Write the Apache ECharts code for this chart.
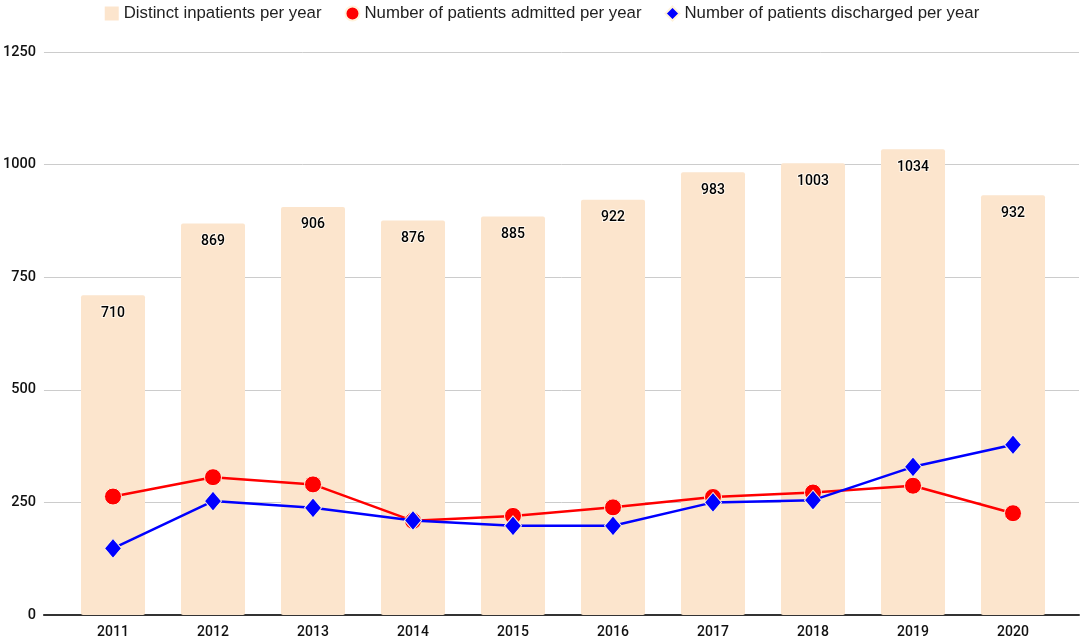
<!DOCTYPE html>
<html>
<head>
<meta charset="utf-8">
<script src="https://cdn.jsdelivr.net/npm/echarts@6/dist/echarts.min.js"></script>
<style>
  html, body { margin: 0; padding: 0; background: #fff; }
  #chart { width: 1084px; height: 642px; }
</style>
</head>
<body>
<div id="chart"></div>
<script>
const years = ['2011', '2012', '2013', '2014', '2015', '2016', '2017', '2018', '2019', '2020'];
const distinct = [710, 869, 906, 876, 885, 922, 983, 1003, 1034, 932];
const admitted = [263, 306, 290, 209, 220, 239, 262, 272, 287, 226];
const discharged = [148, 253, 238, 210, 198, 198, 250, 255, 329, 378];
const yTicks = { min: 0, max: 1250, interval: 250 };

const chart = echarts.init(document.getElementById('chart'));

const font = 'Roboto, "Liberation Sans", Arial, sans-serif';
const legendFont = '"Liberation Sans", Arial, sans-serif';

const option = {
    animation: false,
    textStyle: { fontFamily: font },
    legend: {
        top: 0,
        left: 'center',
        itemWidth: 14,
        itemHeight: 14,
        itemGap: 23,
        textStyle: { fontSize: 16.8, color: '#222', fontFamily: legendFont },
        data: [
            { name: 'Distinct inpatients per year', icon: 'rect' },
            { name: 'Number of patients admitted per year', icon: 'circle' },
            { name: 'Number of patients discharged per year', icon: 'diamond' }
        ]
    },
    grid: [
        // background grid: gridlines + axis line, wider than the bars
        { left: 43, right: 5, top: 52, bottom: 27 },
        // data grid
        { left: 63, right: 21, top: 52, bottom: 27 }
    ],
    xAxis: [
        {
            gridIndex: 0,
            type: 'value',
            min: 0,
            max: 1,
            axisLine: { show: true, lineStyle: { color: '#333', width: 2 } },
            axisTick: { show: false },
            axisLabel: { show: false },
            splitLine: { show: false }
        },
        {
            gridIndex: 1,
            type: 'category',
            data: years,
            axisLine: { show: false },
            axisTick: { show: false },
            axisLabel: { fontSize: 14, fontWeight: 500, color: '#111', margin: 10, fontFamily: font }
        }
    ],
    yAxis: [
        {
            gridIndex: 0,
            type: 'value',
            min: yTicks.min,
            max: yTicks.max,
            interval: yTicks.interval,
            axisLine: { show: false },
            axisTick: { show: false },
            axisLabel: {
                fontSize: 14.5,
                fontWeight: 500,
                color: '#111',
                margin: 8,
                fontFamily: font,
                formatter: v => String(v)
            },
            splitLine: { lineStyle: { color: '#cccccc', width: 1 } }
        },
        {
            gridIndex: 1,
            type: 'value',
            min: yTicks.min,
            max: yTicks.max,
            interval: yTicks.interval,
            show: false,
            splitLine: { show: false }
        }
    ],
    series: [
        {
            name: 'Distinct inpatients per year',
            type: 'bar',
            xAxisIndex: 1,
            yAxisIndex: 1,
            barWidth: 64,
            data: distinct,
            itemStyle: { color: '#fce5cd', borderRadius: 2 },
            label: {
                show: true,
                position: 'insideTop',
                distance: 11,
                fontSize: 14,
                fontWeight: 500,
                color: '#000',
                fontFamily: font,
                textBorderColor: '#fff8ee',
                textBorderWidth: 2
            },
            z: 1
        },
        {
            name: 'Number of patients admitted per year',
            type: 'line',
            xAxisIndex: 1,
            yAxisIndex: 1,
            data: admitted,
            symbol: 'circle',
            symbolSize: 17,
            lineStyle: { color: '#ff0000', width: 2.5 },
            itemStyle: { color: '#ff0000', borderColor: '#fff3dc', borderWidth: 1 },
            z: 3
        },
        {
            name: 'Number of patients discharged per year',
            type: 'line',
            xAxisIndex: 1,
            yAxisIndex: 1,
            data: discharged,
            symbol: 'diamond',
            symbolSize: [17, 20],
            lineStyle: { color: '#0000ff', width: 2.5 },
            itemStyle: { color: '#0000ff', borderColor: '#fff3dc', borderWidth: 1 },
            z: 4
        }
    ]
};

chart.setOption(option);
</script>
</body>
</html>
